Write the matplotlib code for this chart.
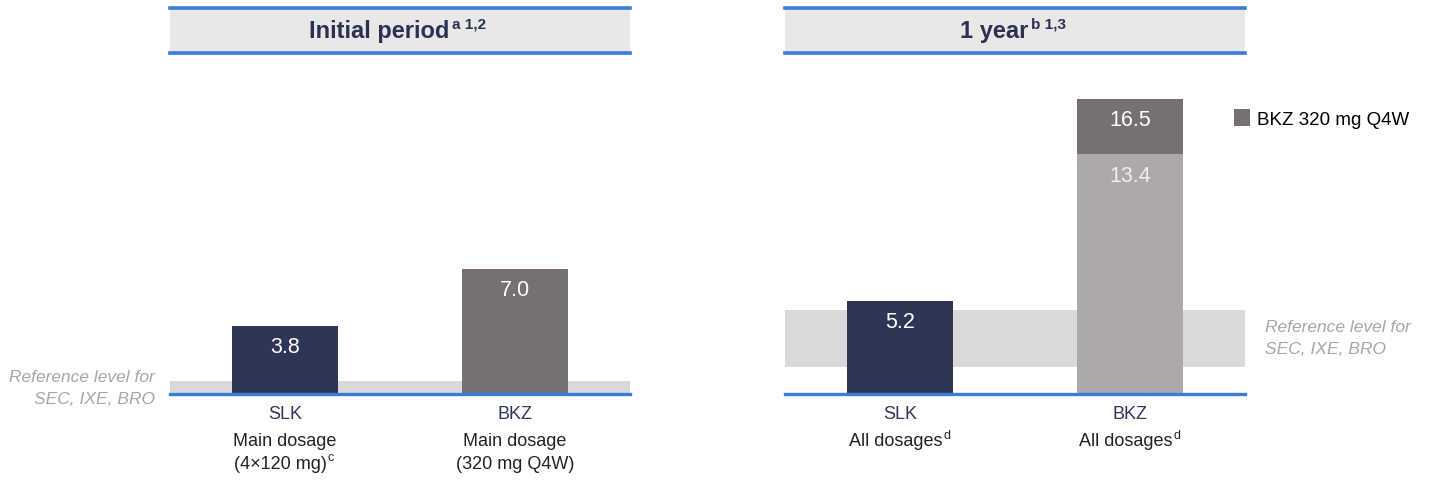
import matplotlib.pyplot as plt
from matplotlib.patches import Rectangle

plt.rcParams['font.family'] = ['Liberation Sans', 'DejaVu Sans']

# values per panel
initial_labels = ['SLK', 'BKZ']
initial_line2 = ['Main dosage', 'Main dosage']
initial_line3 = ['(4×120 mg)', '(320 mg Q4W)']
initial_sups = ['c', '']
initial_values = [3.8, 7.0]
initial_ref = (0.0, 0.7)

year_labels = ['SLK', 'BKZ']
year_line2 = ['All dosages', 'All dosages']
year_sups = ['d', 'd']
year_values = [5.2, 13.4]
year_bkz_320 = 16.5
year_ref = (1.5, 4.7)

titles = ['Initial period', '1 year']
title_sups = ['a 1,2', 'b 1,3']
ref_lines = ['Reference level for', 'SEC, IXE, BRO']

NAVY = '#2E3657'
DARK = '#767070'
LIGHT = '#ADA9A8'
BAND = '#D9D9D9'
HEAD = '#E8E8E8'
BLUE = '#3A7BDB'
REFTXT = '#A6A6A6'
TXT = '#222222'

W, H = 1431, 485
fig = plt.figure(figsize=(W / 100, H / 100), dpi=100)


def px_box(x0, y0, x1, y1):
    # pixel box (top-left origin) -> figure fraction rect
    return [x0 / W, 1 - y1 / H, (x1 - x0) / W, (y1 - y0) / H]


def header(x0, x1, title, sup, shift):
    hax = fig.add_axes(px_box(x0, 8, x1, 55))
    hax.set_xlim(0, 1)
    hax.set_ylim(0, 1)
    hax.axis('off')
    hax.add_patch(Rectangle((0, 0), 1, 1, color=HEAD, lw=0))
    hax.axhline(0.97, color=BLUE, lw=2.6, clip_on=False)
    hax.axhline(0.03, color=BLUE, lw=2.6, clip_on=False)
    t = hax.text(0.5 - shift, 0.5, title, ha='center', va='center',
                 fontsize=17, fontweight='bold', color='#2B3152')
    hax.annotate(sup, xy=(1, 0.8), xycoords=t, xytext=(2, 0),
                 textcoords='offset points', ha='left', va='center',
                 fontsize=11, fontweight='bold', color='#2B3152')


def sup_text(ax, x, dy, text, sup):
    # keep text + superscript centred together under the bar
    dx = -3 if sup else 0
    t = ax.annotate(text, xy=(x, 0), xytext=(dx, dy), textcoords='offset points',
                    ha='center', va='center', fontsize=13, color=TXT)
    if sup:
        ax.annotate(sup, xy=(1, 0.85), xycoords=t, xytext=(0.3, 0),
                    textcoords='offset points', ha='left', va='center',
                    fontsize=9, color=TXT)


def panel(x0, x1, labels, ref):
    ax = fig.add_axes(px_box(x0, 55, x1, 395))
    ax.set_xlim(-0.5, 1.5)
    ax.set_ylim(0, 19)
    ax.axis('off')
    ax.axhspan(ref[0], ref[1], color=BAND, lw=0, zorder=0)
    ax.axhline(0, color=BLUE, lw=2.4, zorder=3, clip_on=False)
    for i, lab in enumerate(labels):
        ax.annotate(lab, xy=(i, 0), xytext=(0, -14.2), textcoords='offset points',
                    ha='center', va='center', fontsize=13, color=NAVY)
    return ax


def value_label(ax, x, top, text, color='white'):
    ax.annotate(text, xy=(x, top), xytext=(0, -15), textcoords='offset points',
                ha='center', va='center', fontsize=15.5, color=color)


def ref_note(x, y, ha):
    for k, line in enumerate(ref_lines):
        fig.text(x / W, 1 - (y + 22 * k) / H, line, ha=ha, va='center',
                 fontsize=12.5, style='italic', color=REFTXT)


bar_w = 0.46

# initial period
header(170, 630, titles[0], title_sups[0], 0.045)
ax1 = panel(170, 630, initial_labels, initial_ref)
for i in range(2):
    sup_text(ax1, i, -33.6, initial_line2[i], '')
    sup_text(ax1, i, -50, initial_line3[i], initial_sups[i])
ax1.bar(0, initial_values[0], width=bar_w, color=NAVY, zorder=2)
ax1.bar(1, initial_values[1], width=bar_w, color=DARK, zorder=2)
for i, v in enumerate(initial_values):
    value_label(ax1, i, v, f'{v:.1f}')
ref_note(155, 378, 'right')

# 1 year
header(785, 1245, titles[1], title_sups[1], 0.045)
ax2 = panel(785, 1245, year_labels, year_ref)
for i in range(2):
    sup_text(ax2, i, -33.6, year_line2[i], year_sups[i])
ax2.bar(0, year_values[0], width=bar_w, color=NAVY, zorder=2)
ax2.bar(1, year_values[1], width=bar_w, color=LIGHT, zorder=2)
top = ax2.bar(1, year_bkz_320 - year_values[1], bottom=year_values[1], width=bar_w,
              color=DARK, zorder=2, label='BKZ 320 mg Q4W')
value_label(ax2, 0, year_values[0], f'{year_values[0]:.1f}')
value_label(ax2, 1, year_values[1], f'{year_values[1]:.1f}', color='#EFEFEF')
value_label(ax2, 1, year_bkz_320, f'{year_bkz_320:.1f}')
ref_note(1265, 328, 'left')

fig.legend(handles=[top], loc='upper left', bbox_to_anchor=(1234 / W, 1 - 110 / H),
           frameon=False, fontsize=13.5, handlelength=0.85, handleheight=1.05,
           handletextpad=0.4, borderaxespad=0, borderpad=0)

fig.savefig('out.png', dpi=100, facecolor='white')
